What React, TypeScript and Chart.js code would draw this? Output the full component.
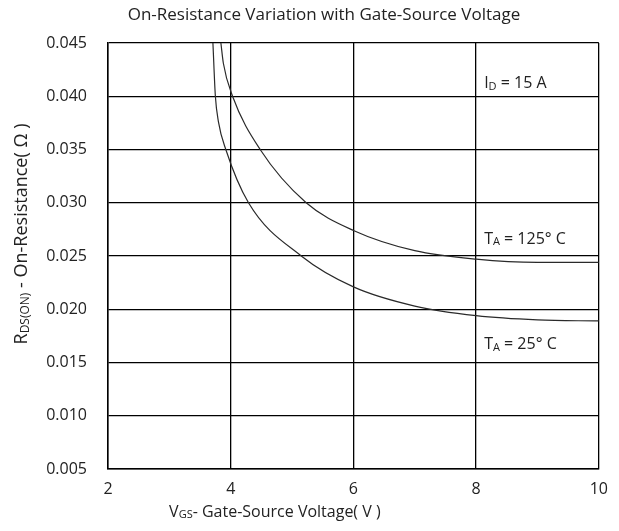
import React, { useEffect, useRef } from "react";
import { Chart, registerables } from "chart.js";

Chart.register(...registerables);

// ---- Data ----
const vgs125: number[] = [3.84, 3.88, 4.03, 4.48, 5.23, 6, 7, 8, 9, 10];
const rds125: number[] = [0.045, 0.0431, 0.040, 0.035, 0.030, 0.0274, 0.0255, 0.0247, 0.0244, 0.0244];

const vgs25: number[] = [3.71, 3.75, 3.8, 3.92, 4.29, 5.15, 6, 7, 8, 9, 10];
const rds25: number[] = [0.045, 0.040, 0.0376, 0.035, 0.030, 0.025, 0.0221, 0.0203, 0.0194, 0.019, 0.0189];

const xTicks: number[] = [2, 4, 6, 8, 10];
const yTicks: number[] = [0.005, 0.01, 0.015, 0.02, 0.025, 0.03, 0.035, 0.04, 0.045];

const chartTitle = "On-Resistance Variation with Gate-Source Voltage";
const xTitle = [{ t: "V" }, { t: "GS", sub: true }, { t: "- Gate-Source Voltage( V )" }];
const yTitle = [{ t: "R" }, { t: "DS(ON)", sub: true }, { t: " - On-Resistance( \u03A9 )" }];

const notes = [
  { x: 8, y: 0.0412, parts: [{ t: "I" }, { t: "D", sub: true }, { t: " = 15 A" }] },
  { x: 8, y: 0.0266, parts: [{ t: "T" }, { t: "A", sub: true }, { t: " = 125\u00B0 C" }] },
  { x: 8, y: 0.0167, parts: [{ t: "T" }, { t: "A", sub: true }, { t: " = 25\u00B0 C" }] },
];

const FONT = "'Open Sans', 'DejaVu Sans', sans-serif";
const SIZE = 16;

type Part = { t: string; sub?: boolean };

function partsWidth(ctx: CanvasRenderingContext2D, parts: Part[], size: number) {
  let w = 0;
  for (const p of parts) {
    ctx.font = `${p.sub ? Math.round(size * 0.68) : size}px ${FONT}`;
    w += ctx.measureText(p.t).width;
  }
  return w;
}

function drawParts(ctx: CanvasRenderingContext2D, parts: Part[], x: number, y: number, size: number) {
  let cx = x;
  ctx.textBaseline = "middle";
  ctx.textAlign = "left";
  for (const p of parts) {
    ctx.font = `${p.sub ? Math.round(size * 0.68) : size}px ${FONT}`;
    ctx.fillText(p.t, cx, p.sub ? y + size * 0.2 : y);
    cx += ctx.measureText(p.t).width;
  }
}

const textPlugin = {
  id: "textPlugin",
  afterDraw(chart: any) {
    const ctx: CanvasRenderingContext2D = chart.ctx;
    const area = chart.chartArea;
    const xs = chart.scales.x;
    const ys = chart.scales.y;
    ctx.save();
    ctx.fillStyle = "#222";
    // title
    ctx.font = `17px ${FONT}`;
    ctx.textAlign = "center";
    ctx.textBaseline = "middle";
    ctx.fillText(chartTitle, area.left + area.width * 0.44, 15);
    // x title
    const xw = partsWidth(ctx, xTitle, SIZE);
    drawParts(ctx, xTitle, area.left + area.width * 0.34 - xw / 2, 512, SIZE);
    // y title (rotated)
    const ySize = 18;
    const yw = partsWidth(ctx, yTitle, ySize);
    ctx.save();
    ctx.translate(22, 234);
    ctx.rotate(-Math.PI / 2);
    drawParts(ctx, yTitle, -yw / 2, 0, ySize);
    ctx.restore();
    // annotations
    for (const n of notes) {
      drawParts(ctx, n.parts, xs.getPixelForValue(n.x) + 8, ys.getPixelForValue(n.y), SIZE);
    }
    ctx.restore();
  },
};

export default function App() {
  const ref = useRef<HTMLCanvasElement | null>(null);
  useEffect(() => {
    if (!ref.current) return;
    const chart = new Chart(ref.current, {
      type: "line",
      data: {
        datasets: [
          {
            label: "TA = 125 C",
            data: vgs125.map((v, i) => ({ x: v, y: rds125[i] })),
            borderColor: "#2a2a2a",
            borderWidth: 1.2,
            pointRadius: 0,
            cubicInterpolationMode: "monotone",
          },
          {
            label: "TA = 25 C",
            data: vgs25.map((v, i) => ({ x: v, y: rds25[i] })),
            borderColor: "#2a2a2a",
            borderWidth: 1.2,
            pointRadius: 0,
            cubicInterpolationMode: "monotone",
          },
        ],
      },
      options: {
        responsive: false,
        animation: false,
        layout: { padding: { top: 43, right: 17, left: 0, bottom: 0 } },
        plugins: { legend: { display: false }, tooltip: { enabled: false }, title: { display: false } },
        scales: {
          x: {
            type: "linear",
            min: 2,
            max: 10,
            afterBuildTicks: (s: any) => { s.ticks = xTicks.map((v) => ({ value: v })); },
            afterFit: (s: any) => { s.height = 62; },
            grid: { color: "#000", lineWidth: 1.3, drawTicks: false },
            border: { color: "#000", width: 1.5 },
            ticks: { color: "#222", font: { family: FONT, size: SIZE }, padding: 11, maxRotation: 0 },
          },
          y: {
            type: "linear",
            min: 0.005,
            max: 0.045,
            afterBuildTicks: (s: any) => { s.ticks = yTicks.map((v) => ({ value: v })); },
            afterFit: (s: any) => { s.width = 108; },
            grid: { color: "#000", lineWidth: 1.3, drawTicks: false },
            border: { color: "#000", width: 1.5 },
            ticks: {
              color: "#222",
              font: { family: FONT, size: SIZE },
              padding: 21,
              callback: (v: any) => Number(v).toFixed(3),
            },
          },
        },
      },
      plugins: [textPlugin],
    });
    return () => chart.destroy();
  }, []);
  return (
    <div style={{ position: "fixed", left: 0, top: 0 }}>
      <canvas ref={ref} width={619} height={531} style={{ display: "block" }} />
    </div>
  );
}
